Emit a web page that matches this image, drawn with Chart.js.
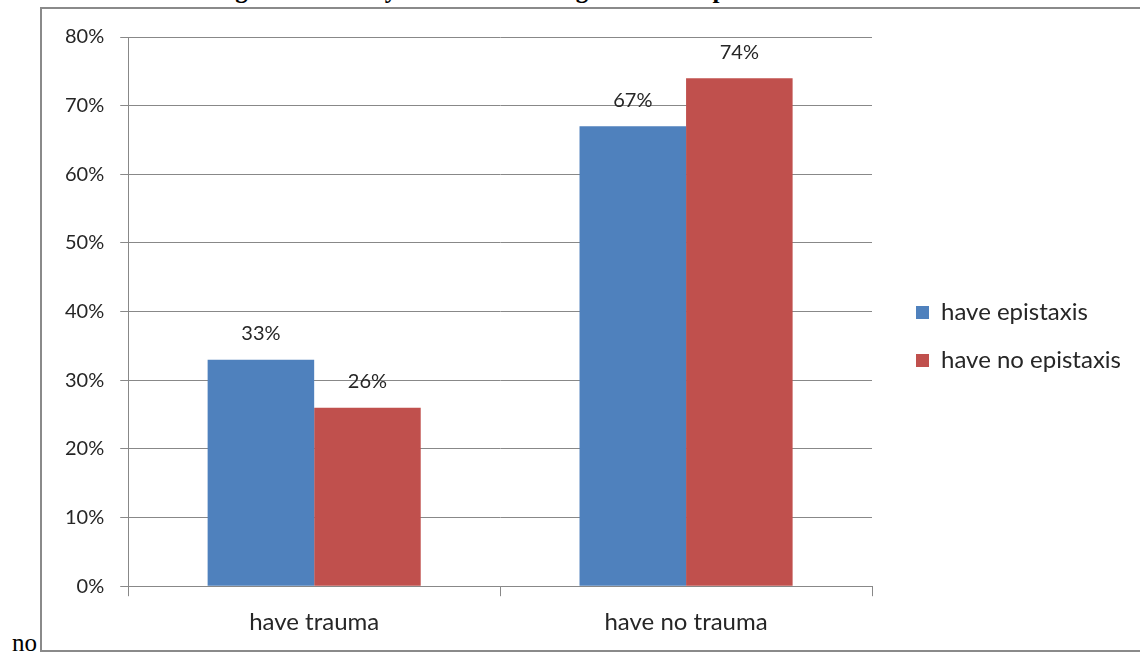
<!DOCTYPE html>
<html>
<head>
<meta charset="utf-8">
<script src="https://cdn.jsdelivr.net/npm/chart.js@4.4.1/dist/chart.umd.min.js"></script>
<style>
  body { margin: 0; width: 1140px; height: 656px; overflow: hidden; background: #fff; position: relative; }
  #title { position: absolute; left: 213px; top: -23px; font: bold 25px "Liberation Serif", serif; line-height: 25px; white-space: nowrap; color: #000; }
  #note { position: absolute; left: 12px; top: 630px; font: 25px "Liberation Serif", serif; line-height: 25px; color: #000; }
  #box { position: absolute; left: 40px; top: 7px; width: 1120px; height: 645px; border: 2px solid #8a8a8a; box-sizing: border-box; }
  #wrap { position: absolute; left: 0; top: 0; width: 1098px; height: 641px; }
</style>
</head>
<body>
<div id="title">Figure 1: History of trauma among who have epistaxis and who have</div>
<div id="note">no</div>
<div id="box"><div id="wrap"><canvas id="myChart"></canvas></div></div>
<script>
const categories = ["have trauma", "have no trauma"];
const seriesNames = ["have epistaxis", "have no epistaxis"];
const haveEpistaxis = [0.33, 0.67];
const haveNoEpistaxis = [0.26, 0.74];
const yTicks = [0, 0.1, 0.2, 0.3, 0.4, 0.5, 0.6, 0.7, 0.8];

const textColor = "#262626";
const gridColor = "#888888";
const fontFamily = "Lato, 'Open Sans', sans-serif";

// percent labels above each bar
const barLabels = {
    id: "barLabels",
    afterDatasetsDraw(chart) {
        const ctx = chart.ctx;
        ctx.save();
        ctx.fillStyle = textColor;
        ctx.font = "20px " + fontFamily;
        ctx.textAlign = "center";
        ctx.textBaseline = "middle";
        chart.data.datasets.forEach((ds, i) => {
            chart.getDatasetMeta(i).data.forEach((bar, j) => {
                ctx.fillText(Math.round(ds.data[j] * 100) + "%", bar.x, bar.y - 26);
            });
        });
        ctx.restore();
    }
};

var ctx = document.getElementById('myChart').getContext('2d');
var myChart = new Chart(ctx, {
    type: 'bar',
    data: {
        labels: categories,
        datasets: [
            { label: seriesNames[0], data: haveEpistaxis, backgroundColor: "#4F81BD" },
            { label: seriesNames[1], data: haveNoEpistaxis, backgroundColor: "#C0504D" }
        ]
    },
    options: {
        responsive: true,
        maintainAspectRatio: false,
        animation: false,
        categoryPercentage: 0.573,
        barPercentage: 1,
        layout: { padding: { left: 7, top: 15, right: 9, bottom: 1 } },
        plugins: {
            legend: {
                position: 'right',
                maxWidth: 320,
                labels: {
                    boxWidth: 13, boxHeight: 13, padding: 24,
                    color: textColor,
                    font: { family: fontFamily, size: 24 }
                }
            },
            tooltip: { enabled: false }
        },
        scales: {
            x: {
                grid: { offset: true, drawOnChartArea: false, drawTicks: true, tickLength: 10, color: gridColor },
                border: { color: gridColor },
                ticks: { color: textColor, padding: 12, font: { family: fontFamily, size: 24 } }
            },
            y: {
                min: 0, max: 0.8,
                afterBuildTicks: (axis) => { axis.ticks = yTicks.map(v => ({ value: v })); },
                grid: { color: gridColor, tickLength: 8 },
                border: { color: gridColor },
                ticks: {
                    color: textColor, padding: 16,
                    font: { family: fontFamily, size: 20 },
                    callback: (v) => Math.round(v * 100) + "%"
                }
            },
            // empty spacer between plot and legend
            gap: {
                position: 'right', type: 'linear',
                grid: { display: false }, border: { display: false },
                ticks: { display: false },
                afterFit: (scale) => { scale.width = 20; }
            }
        }
    },
    plugins: [barLabels]
});
</script>
</body>
</html>
